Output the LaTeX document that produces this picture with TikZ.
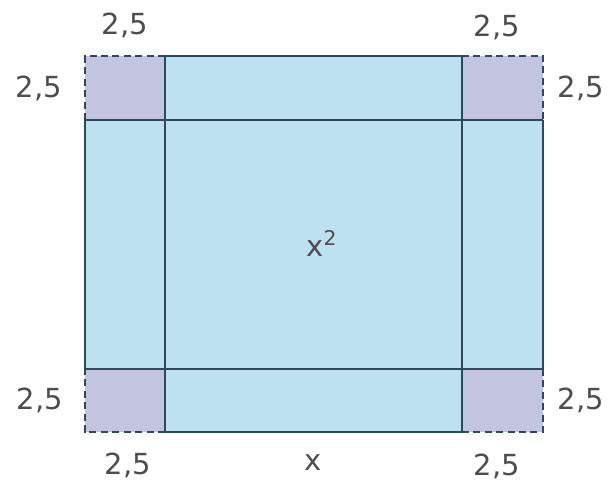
\documentclass[tikz,border=0pt]{standalone}
\usepackage{fontspec}
\setmainfont{DejaVu Sans}
\definecolor{fillblue}{HTML}{BEE1F2}
\definecolor{fillcorner}{HTML}{C3C4E0}
\definecolor{edge}{HTML}{2E4A58}
\definecolor{labelgray}{HTML}{4D4D4D}
\begin{document}
\begin{tikzpicture}[x=0.02cm,y=-0.02cm,
  lab/.style={text=labelgray,font=\fontsize{16.5}{18}\selectfont,inner sep=0pt},
  solidedge/.style={draw=edge,line width=1.6pt},
  dashedge/.style={draw=edge,line width=1.6pt,dashed,dash pattern=on 4pt off 2.5pt}]
\useasboundingbox (0,0) rectangle (614,486);
% fills
\fill[fillblue] (85,120) rectangle (543,369);
\fill[fillblue] (165,56) rectangle (462,432);
\fill[fillcorner] (85,56) rectangle (165,120);
\fill[fillcorner] (462,56) rectangle (543,120);
\fill[fillcorner] (85,369) rectangle (165,432);
\fill[fillcorner] (462,369) rectangle (543,432);
% dashed corner edges
\coordinate (c1) at (85,120); \coordinate (c2) at (85,56); \coordinate (c3) at (165,56);
\coordinate (c4) at (462,56); \coordinate (c5) at (543,56); \coordinate (c6) at (543,120);
\coordinate (c7) at (543,369); \coordinate (c8) at (543,432); \coordinate (c9) at (462,432);
\coordinate (c10) at (165,432); \coordinate (c11) at (85,432); \coordinate (c12) at (85,369);
\draw[dashedge] (c1) -- (c2) -- (c3);
\draw[dashedge] (c4) -- (c5) -- (c6);
\draw[dashedge] (c7) -- (c8) -- (c9);
\draw[dashedge] (c10) -- (c11) -- (c12);
% solid lines
\draw[solidedge] (c3) -- (c4);
\draw[solidedge] (c10) -- (c9);
\draw[solidedge] (c1) -- (c12);
\draw[solidedge] (c6) -- (c7);
\draw[solidedge] (c3) -- (c10);
\draw[solidedge] (c4) -- (c9);
\draw[solidedge] (c1) -- (c6);
\draw[solidedge] (c12) -- (c7);
% labels
\node[lab] (tl) at (125,25) {2,5};
\node[lab] (tr) at (497,27) {2,5};
\node[lab] (lt) at (39,88) {2,5};
\node[lab] (rt) at (581,88) {2,5};
\node[lab] (lb) at (40,400) {2,5};
\node[lab] (rb) at (581,400) {2,5};
\node[lab] (bl) at (128,465) {2,5};
\node[lab] (br) at (497,466) {2,5};
\node[lab] (bx) at (313,463) {x};
\node[lab] (sq) at (322,243) {x\textsuperscript{2}};
\end{tikzpicture}
\end{document}
